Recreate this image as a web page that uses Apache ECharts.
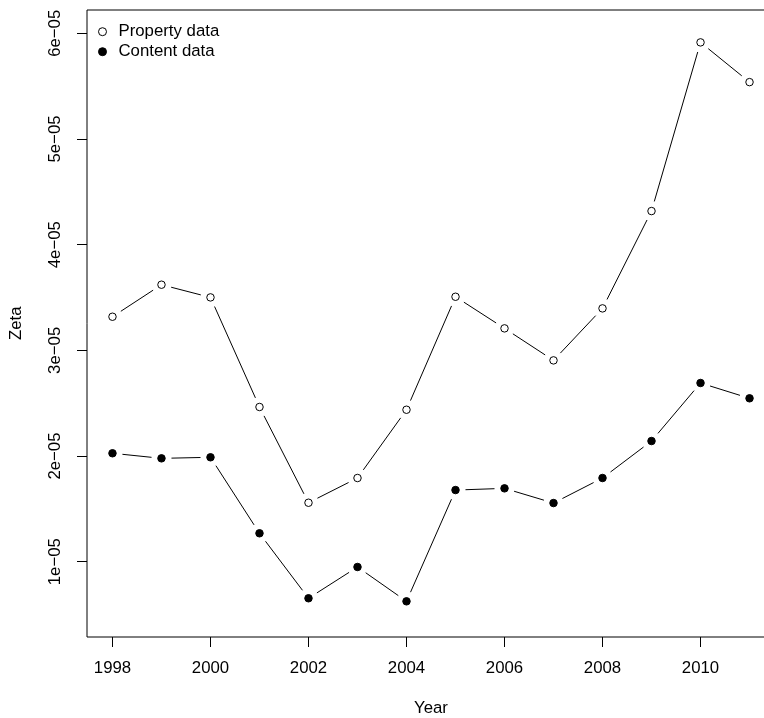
<!DOCTYPE html>
<html>
<head>
<meta charset="utf-8">
<script src="https://cdn.jsdelivr.net/npm/echarts@6/dist/echarts.min.js"></script>
<style>
  html, body { margin: 0; padding: 0; background: #ffffff; }
  #chart { width: 764px; height: 718px; }
</style>
</head>
<body>
<div id="chart"></div>
<script>
// Yearly Zeta estimates for the two data sources
const years = [1998, 1999, 2000, 2001, 2002, 2003, 2004, 2005, 2006, 2007, 2008, 2009, 2010, 2011];
const propertyZeta = [3.318e-5, 3.621e-5, 3.501e-5, 2.464e-5, 1.558e-5, 1.792e-5, 2.438e-5,
                      3.507e-5, 3.208e-5, 2.905e-5, 3.397e-5, 4.318e-5, 5.914e-5, 5.538e-5];
const contentZeta  = [2.026e-5, 1.978e-5, 1.988e-5, 1.269e-5, 0.654e-5, 0.950e-5, 0.625e-5,
                      1.678e-5, 1.694e-5, 1.555e-5, 1.792e-5, 2.142e-5, 2.691e-5, 2.546e-5];

// Axis ticks and their labels
const yearTicks = [1998, 2000, 2002, 2004, 2006, 2008, 2010];
const zetaTicks = [1e-5, 2e-5, 3e-5, 4e-5, 5e-5, 6e-5];
const zetaTickLabels = ['1e\u221205', '2e\u221205', '3e\u221205', '4e\u221205', '5e\u221205', '6e\u221205'];

const FONT = 'Liberation Sans, Arial, Helvetica, sans-serif';
const FS = 16.8;
const SEGMENT_GAP = 10;   // blank space left around each point by the connecting lines

const pairs = vals => years.map((y, i) => [y, vals[i]]);
// consecutive point pairs: [x0, y0, x1, y1]
const segments = vals => years.slice(1).map((y, i) => [years[i], vals[i], y, vals[i + 1]]);

// "both" style connecting lines: each segment stops short of its two end points
function segmentSeries(name, vals) {
  return {
    name: name, type: 'custom', data: segments(vals), z: 2,
    silent: true, animation: false, clip: true,
    encode: { x: [0, 2], y: [1, 3] },
    renderItem: function (params, api) {
      const p0 = api.coord([api.value(0), api.value(1)]);
      const p1 = api.coord([api.value(2), api.value(3)]);
      const dx = p1[0] - p0[0], dy = p1[1] - p0[1];
      const len = Math.sqrt(dx * dx + dy * dy);
      if (len <= 2 * SEGMENT_GAP) return null;
      const ux = dx / len, uy = dy / len;
      return {
        type: 'line',
        shape: {
          x1: p0[0] + ux * SEGMENT_GAP, y1: p0[1] + uy * SEGMENT_GAP,
          x2: p1[0] - ux * SEGMENT_GAP, y2: p1[1] - uy * SEGMENT_GAP
        },
        style: { stroke: '#000', lineWidth: 1, fill: null }
      };
    }
  };
}
function markerSeries(name, vals, fill) {
  return {
    name: name, type: 'scatter', data: pairs(vals), z: 4,
    symbol: 'circle', symbolSize: 7.5, silent: true, animation: false,
    itemStyle: { color: fill, borderColor: '#000', borderWidth: 1, opacity: 1 },
    emphasis: { disabled: true }
  };
}

const chart = echarts.init(document.getElementById('chart'), null, { renderer: 'canvas' });
chart.setOption({
  animation: false,
  backgroundColor: '#ffffff',
  grid: {
    left: 87, top: 10, width: 688, height: 627,
    outerBoundsMode: 'none', containLabel: false,
    show: true, borderColor: '#000', borderWidth: 1, backgroundColor: 'transparent'
  },
  xAxis: {
    type: 'value', min: 1997.48, max: 2011.52,
    axisLine: { show: false },
    splitLine: { show: false },
    axisTick: { show: true, inside: false, length: 10, customValues: yearTicks,
                lineStyle: { color: '#000', width: 1 } },
    axisLabel: { show: true, margin: 23, customValues: yearTicks, color: '#000',
                 fontFamily: FONT, fontSize: FS, formatter: v => String(v) }
  },
  yAxis: {
    type: 'value', min: 0.2876e-5, max: 6.2204e-5,
    axisLine: { show: false },
    splitLine: { show: false },
    axisTick: { show: true, inside: false, length: 10, customValues: zetaTicks,
                lineStyle: { color: '#000', width: 1 } },
    axisLabel: {
      show: true, margin: 23, rotate: 90, customValues: zetaTicks, color: '#000',
      fontFamily: FONT, fontSize: FS,
      formatter: v => {
        const i = zetaTicks.findIndex(t => Math.abs(t - v) < 1e-12);
        return i >= 0 ? zetaTickLabels[i] : '';
      }
    }
  },
  legend: {
    orient: 'vertical', left: 98, top: 23.2, padding: 0,
    itemWidth: 22, itemHeight: 8, itemGap: 3, selectedMode: false,
    textStyle: { color: '#000', fontFamily: FONT, fontSize: FS, lineHeight: 17 },
    data: [
      { name: 'Property data', icon: 'circle',
        itemStyle: { color: '#ffffff', borderColor: '#000', borderWidth: 1 } },
      { name: 'Content data', icon: 'circle',
        itemStyle: { color: '#000', borderColor: '#000', borderWidth: 1 } }
    ]
  },
  graphic: [
    { type: 'text', x: 431, y: 708, silent: true,
      style: { text: 'Year', fill: '#000', font: FS + 'px ' + FONT, align: 'center', verticalAlign: 'middle' } },
    { type: 'text', x: 16.7, y: 323.3, rotation: Math.PI / 2, silent: true,
      style: { text: 'Zeta', fill: '#000', font: FS + 'px ' + FONT, align: 'center', verticalAlign: 'middle' } }
  ],
  series: [
    segmentSeries('propertyLine', propertyZeta),
    segmentSeries('contentLine', contentZeta),
    markerSeries('Property data', propertyZeta, '#ffffff'),
    markerSeries('Content data', contentZeta, '#000')
  ]
});
</script>
</body>
</html>
